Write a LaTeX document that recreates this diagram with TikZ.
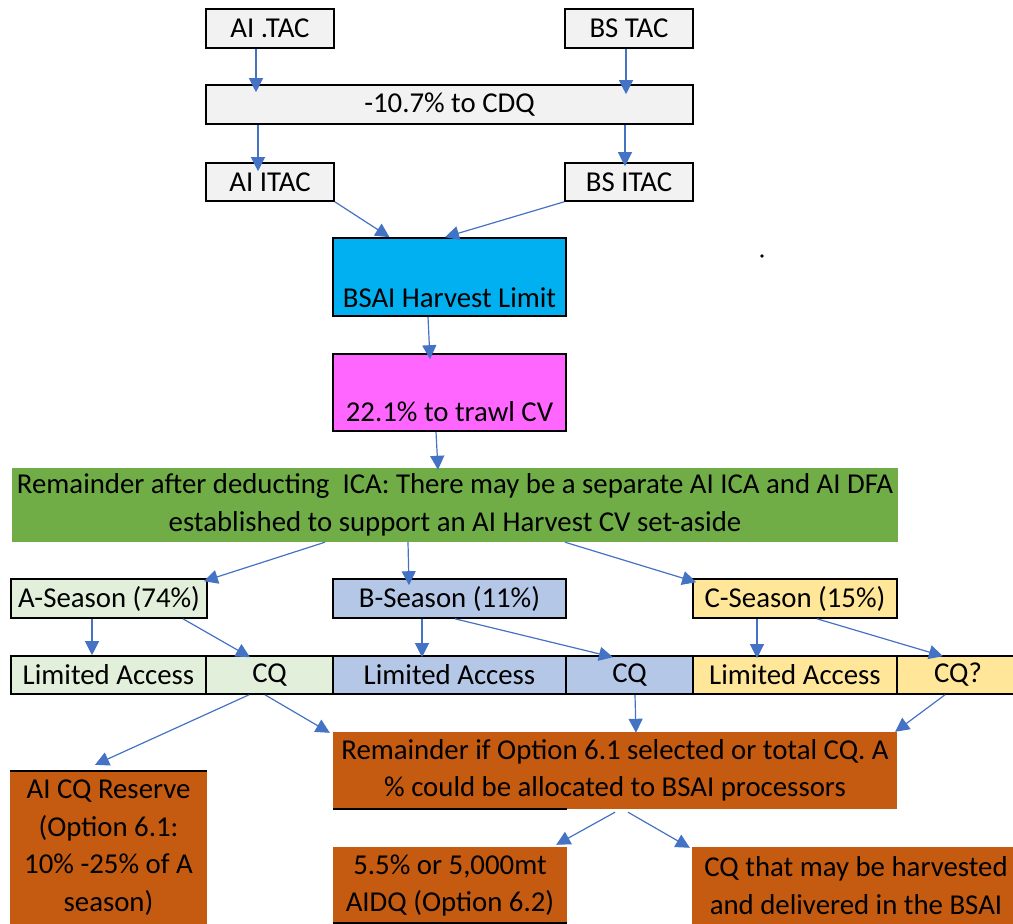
\documentclass[tikz,border=0pt]{standalone}
\usepackage{fontspec}
\setmainfont{Carlito}
\usetikzlibrary{calc,arrows.meta}
\definecolor{lgray}{HTML}{F2F2F2}
\definecolor{cyanb}{HTML}{00B0F0}
\definecolor{magb}{HTML}{FF66FF}
\definecolor{greenb}{HTML}{70AD47}
\definecolor{lgreen}{HTML}{E2EFDA}
\definecolor{lblue}{HTML}{B4C7E7}
\definecolor{lyellow}{HTML}{FFE699}
\definecolor{orangeb}{HTML}{C55A11}
\definecolor{arrowc}{HTML}{4472C4}
\tikzset{
  box/.style={draw=black, line width=1.6pt, inner sep=0pt, align=center, font=\fontsize{28.8}{37.5}\selectfont},
  fbox/.style={inner sep=0pt, align=center, font=\fontsize{28.8}{37.5}\selectfont},
  txt/.style={inner sep=0pt, align=center, font=\fontsize{28.8}{37.5}\selectfont},
  arr/.style={draw=arrowc, line width=1.2pt, -{Triangle[length=14pt,width=14pt]}},
  edgeline/.style={draw=black, line width=1.6pt},
}
\begin{document}
\begin{tikzpicture}[x=1pt,y=-1pt]
\useasboundingbox (0,0) rectangle (1013,924);
% top boxes
\node[box, fill=lgray, minimum width=128pt, minimum height=39pt] (aitac) at (270,28.5) {AI .TAC};
\node[box, fill=lgray, minimum width=128pt, minimum height=39pt] (bstac) at (629,28.5) {BS TAC};
\node[box, fill=lgray, minimum width=487pt, minimum height=39pt] (cdq) at (449.5,104.5) {-10.7\% to CDQ};
\node[box, fill=lgray, minimum width=128pt, minimum height=38pt] (aiitac) at (270,182) {AI ITAC};
\node[box, fill=lgray, minimum width=128pt, minimum height=38pt] (bsitac) at (629,182) {BS ITAC};
% harvest limit
\node[box, fill=cyanb, minimum width=233pt, minimum height=78pt] (bsai) at (449.5,277) {};
\node[txt] (bsaitxt) at (449.5,298) {BSAI Harvest Limit};
\node[box, fill=magb, minimum width=233pt, minimum height=77pt] (trawl) at (449.5,392.5) {};
\node[txt] (trawltxt) at (449.5,412) {22.1\% to trawl CV};
% green
\node[fbox, fill=greenb, minimum width=886pt, minimum height=74pt] (green) at (455,505) {Remainder after deducting\ \ ICA: There may be a separate AI ICA and AI DFA\\established to support an AI Harvest CV set-aside};
% seasons
\node[box, fill=lgreen, minimum width=196pt, minimum height=39pt] (aseason) at (109,598.5) {A-Season (74\%)};
\node[box, fill=lblue, minimum width=233pt, minimum height=39pt] (bseason) at (449.5,598.5) {B-Season (11\%)};
\node[box, fill=lyellow, minimum width=204pt, minimum height=39pt] (cseason) at (795,598.5) {C-Season (15\%)};
% bottom row
\node[box, fill=lgreen, minimum width=195pt, minimum height=38pt] (la1) at (108.5,675) {Limited Access};
\node[box, fill=lgreen, minimum width=127pt, minimum height=38pt] (cq1) at (269.5,675) {CQ};
\node[box, fill=lblue, minimum width=233pt, minimum height=38pt] (la2) at (449.5,675) {Limited Access};
\node[box, fill=lblue, minimum width=127pt, minimum height=38pt] (cq2) at (629.5,675) {CQ};
\node[box, fill=lyellow, minimum width=204pt, minimum height=38pt] (la3) at (795,675) {Limited Access};
\node[box, fill=lyellow, minimum width=122pt, minimum height=38pt] (cq3) at (958,675) {CQ?};
% orange boxes
\node[fbox, fill=orangeb, minimum width=197pt, minimum height=153pt] (reserve) at (108.5,847.5) {AI CQ Reserve\\(Option 6.1:\\10\% -25\% of A\\season)};
\node[fbox, fill=orangeb, minimum width=564pt, minimum height=77pt] (remainder) at (615,770.5) {Remainder if Option 6.1 selected or total CQ. A\\\% could be allocated to BSAI processors};
\node[fbox, fill=orangeb, minimum width=234pt, minimum height=77pt] (aidq) at (450,885.5) {5.5\% or 5,000mt\\AIDQ (Option 6.2)};
\node[fbox, fill=orangeb, minimum width=328pt, minimum height=77pt] (cqharv) at (856,885.5) {CQ that may be harvested\\and delivered in the BSAI};
% partial borders
\draw[edgeline] (reserve.north west) -- (reserve.north east);
\draw[edgeline] (remainder.south west) -- ($(remainder.south west)+(234,0)$);
\draw[edgeline] ($(aidq.south west)+(0,-1)$) -- ($(aidq.south east)+(0,-1)$);
% stray dot
\fill (762,256) circle (1.8pt);
% arrows
\draw[arr] ($(aitac.south)+(-14,0)$) -- ($(aitac.south |- cdq.north)+(-14,8)$);
\draw[arr] ($(bstac.south)+(-3,0)$) -- ($(bstac.south |- cdq.north)+(-3,10)$);
\draw[arr] ($(cdq.south -| aiitac.south)+(-12,0)$) -- ($(aiitac.north)+(-12,9)$);
\draw[arr] ($(cdq.south -| bsitac.south)+(-4,0)$) -- ($(bsitac.north)+(-4,4)$);
\draw[arr] (aiitac.south east) -- ($(bsai.north)+(-60,0)$);
\draw[arr] (bsitac.south west) -- ($(bsai.north)+(-4.5,0)$);
\draw[arr] ($(bsai.south)+(-21.5,0)$) -- ($(trawl.north)+(-19.5,6)$);
\draw[arr] ($(trawl.south)+(-13.5,0)$) -- ($(green.north)+(-17,2)$);
\draw[arr] ($(green.south)+(-130,0)$) -- ($(aseason.north east)+(-4,3)$);
\draw[arr] ($(green.south)+(-47,0)$) -- ($(bseason.north)+(-40.5,7)$);
\draw[arr] ($(green.south)+(110,0)$) -- ($(cseason.north west)+(4,4)$);
\draw[arr] ($(aseason.south)+(-17,0)$) -- ($(la1.north)+(-16.5,0)$);
\draw[arr] ($(aseason.south)+(74,0)$) -- ($(cq1.north)+(-19.5,2)$);
\draw[arr] ($(bseason.south)+(-27.5,0)$) -- ($(la2.north)+(-27.5,2)$);
\draw[arr] ($(bseason.south)+(5.5,0)$) -- ($(cq2.north)+(-16.5,2)$);
\draw[arr] ($(cseason.south)+(-38,0)$) -- ($(la3.north)+(-38,3)$);
\draw[arr] ($(cseason.south)+(22,0)$) -- ($(cq3.north)+(-15,1)$);
\draw[arr] ($(cq1.south)+(-20.5,0)$) -- ($(reserve.north)+(-13.5,-6)$);
\draw[arr] ($(cq1.south)+(-4.5,0)$) -- ($(remainder.north west)+(-3,1)$);
\draw[arr] ($(cq2.south)+(5.5,0)$) -- ($(remainder.north)+(21,1)$);
\draw[arr] ($(cq3.south)+(-13,0)$) -- ($(remainder.north east)+(-2,0)$);
\draw[arr] ($(remainder.south)+(0,3)$) -- ($(aidq.north east)+(-11,-2)$);
\draw[arr] ($(remainder.south)+(13,3)$) -- ($(cqharv.north west)+(-2,1)$);
\end{tikzpicture}
\end{document}
